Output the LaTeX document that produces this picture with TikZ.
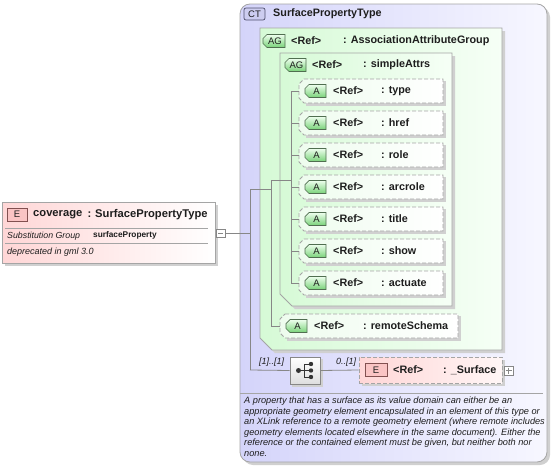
\documentclass[tikz,border=0pt]{standalone}
\usepackage{fontspec}
\setmainfont{Liberation Sans}
\definecolor{lavL}{RGB}{212,212,250}
\definecolor{lavR}{RGB}{247,247,255}
\definecolor{grnL}{RGB}{214,250,214}
\definecolor{grnR}{RGB}{246,255,246}
\definecolor{aboxL}{RGB}{238,252,238}
\definecolor{bordc}{RGB}{165,165,165}
\definecolor{linec}{RGB}{135,135,135}
\definecolor{shadc}{RGB}{208,208,208}
\definecolor{pinkL}{RGB}{255,214,214}
\definecolor{pinkR}{RGB}{255,246,246}
\definecolor{ebadge}{RGB}{250,196,196}
\definecolor{ebord}{RGB}{130,80,80}
\definecolor{abadgeT}{RGB}{238,255,238}
\definecolor{abadgeB}{RGB}{120,210,120}
\definecolor{abord}{RGB}{80,110,80}
\definecolor{ctbadge}{RGB}{205,205,240}
\definecolor{ctbord}{RGB}{80,80,110}
\definecolor{txt}{RGB}{30,30,30}
\tikzset{
  conn/.style={draw=linec, line width=0.8pt},
  lbl/.style={anchor=west, inner sep=0pt, font=\fontsize{10.8}{12}\selectfont\bfseries, text=txt},
  badgetxt/.style={inner sep=0pt, font=\fontsize{9.5}{10}\selectfont, text=txt},
  dashbox/.style={draw=bordc, dash pattern=on 4pt off 2pt, line width=0.8pt},
  desc/.style={anchor=base west, inner sep=0pt, font=\fontsize{9.2}{10}\selectfont\itshape, text=txt},
}
\newcommand{\GreenBadge}[4]{%
  \draw[abord, line width=0.7pt, top color=abadgeT, bottom color=abadgeB]
    (#1+4,#3-6.5) -- (#2,#3-6.5) -- (#2,#3+6.5) -- (#1+4,#3+6.5) -- (#1,#3+2.5) -- (#1,#3-2.5) -- cycle;
  \node[badgetxt] at ({(#1+#2)/2+1},#3) {#4};
}
\newcommand{\AttrRow}[6]{%
  \fill[shadc] (#3+7,#2-10) -- (#4+3,#2-10) -- (#4+3,#2+15) -- (#3+7,#2+15) -- cycle;
  \draw[dashbox, left color=aboxL, right color=white]
    (#3+5,#2-12) -- (#4,#2-12) -- (#4,#2+12) -- (#3+5,#2+12) -- (#3,#2+7) -- (#3,#2-7) -- cycle;
  \coordinate (#1) at (#3,#2);
  \GreenBadge{#3+6}{#3+27}{#2}{A}
  \node[lbl] (#1-ref) at (#3+34,#2) {<Ref>};
  \node[lbl] (#1-lab) at (#6,#2) {: #5};
}
\begin{document}
\begin{tikzpicture}[x=1pt,y=-1pt]
\useasboundingbox (0,0) rectangle (552,466);

% ---------- complex type box ----------
\fill[shadc, rounded corners=10pt] (243,7) rectangle (550,465);
\draw[bordc, line width=0.8pt, left color=lavL, right color=lavR, rounded corners=10pt] (240,4) rectangle (547,462);
\draw[ctbord, line width=0.7pt, fill=ctbadge, rounded corners=2pt] (244,8) rectangle (265,20);
\node[badgetxt] (ctb) at (254.5,14) {CT};
\node[lbl] (cttitle) at (273,14) {SurfacePropertyType};

% ---------- outer attribute group ----------
\fill[shadc] (263,31) -- (505,31) -- (505,353) -- (275,353) -- (263,341) -- cycle;
\draw[bordc, line width=0.8pt, left color=grnL, right color=grnR]
  (260,28) -- (502,28) -- (502,350) -- (272,350) -- (260,338) -- cycle;
\GreenBadge{263}{285}{41}{AG}
\node[lbl] (ag1ref) at (291,41) {<Ref>};
\node[lbl] (ag1lab) at (343,41) {: AssociationAttributeGroup};

% ---------- inner attribute group ----------
\fill[shadc] (283,56) -- (455,56) -- (455,309) -- (295,309) -- (283,297) -- cycle;
\draw[bordc, line width=0.8pt, left color=grnL, right color=grnR]
  (280,53) -- (452,53) -- (452,306) -- (292,306) -- (280,294) -- cycle;
\GreenBadge{285}{306}{65}{AG}
\node[lbl] (ag2ref) at (312,65) {<Ref>};
\node[lbl] (ag2lab) at (363,65) {: simpleAttrs};

% ---------- attributes ----------
\AttrRow{type}{91}{299}{443}{type}{381}
\AttrRow{href}{123}{299}{443}{href}{381}
\AttrRow{role}{155}{299}{443}{role}{381}
\AttrRow{arcrole}{187}{299}{443}{arcrole}{381}
\AttrRow{title}{219}{299}{443}{title}{381}
\AttrRow{show}{251}{299}{443}{show}{381}
\AttrRow{actuate}{283}{299}{443}{actuate}{381}
\AttrRow{remote}{326}{280}{458}{remoteSchema}{363}

% ---------- left element ----------
\fill[shadc] (5,205) rectangle (218,266);
\draw[bordc, line width=0.8pt, left color=pinkL, right color=white] (2,202) rectangle (215,263);
\draw[ebord, line width=0.7pt, fill=ebadge] (7,208) rectangle (27,221);
\node[badgetxt] (eb1) at (17,214.5) {E};
\node[lbl, font=\fontsize{11.2}{12}\selectfont\bfseries] (cov) at (33,214.5) {coverage};
\node[lbl, font=\fontsize{11.2}{12}\selectfont\bfseries] (covc) at (87.5,214.5) {:};
\node[lbl, font=\fontsize{11.2}{12}\selectfont\bfseries] (covt) at (95,214.5) {SurfacePropertyType};
\draw[bordc, line width=0.7pt] (5,228) -- (208,228);
\draw[bordc, line width=0.7pt] (5,243) -- (208,243);
\node[lbl, font=\fontsize{8.8}{10}\selectfont\itshape] (subg) at (7,236) {Substitution Group};
\node[lbl, font=\fontsize{8.3}{10}\selectfont\bfseries] (subv) at (93,235.5) {surfaceProperty};
\node[lbl, font=\fontsize{9}{10}\selectfont\itshape] (depr) at (7,252.5) {deprecated in gml 3.0};

% minus box
\node[draw=linec, fill=white, line width=0.7pt, minimum width=9pt, minimum height=8pt, inner sep=0pt] (minus) at (220.5,233) {};
\draw[linec, line width=0.7pt] (218,233) -- (223,233);

% ---------- connectors ----------
\coordinate (jA) at (250,233);
\coordinate (jTop) at (250,189);
\coordinate (jSeq) at (250,370);
\coordinate (jB) at (271,189);
\coordinate (jBtop) at (271,180);
\coordinate (jBbot) at (271,326);
\coordinate (jC) at (291,180);
\coordinate (jCtop) at (291,91);
\coordinate (jCbot) at (291,283);
\draw[conn] (minus.east) -- (jA);
\draw[conn] (jTop) -- (jSeq);
\draw[conn] (jTop) -- (jB);
\draw[conn] (jBtop) -- (jBbot);
\draw[conn] (jBtop) -- (jC);
\draw[conn] (jBbot) -- (remote);
\draw[conn] (jCtop) -- (jCbot);
\foreach \r/\yy in {type/91,href/123,role/155,arcrole/187,title/219,show/251,actuate/283}{
  \draw[conn] (291,\yy) -- (\r);
}

% ---------- sequence ----------
\fill[shadc] (292,359) rectangle (323,387);
\node[draw=linec, line width=0.7pt, top color=white, bottom color={rgb,255:red,222;green,222;blue,222}, minimum width=30pt, minimum height=27pt, inner sep=0pt] (seq) at (305,370.5) {};
\fill[black!80] (298.5,370.5) circle (2.5pt);
\draw[black!80, line width=0.9pt] (298.5,370.5) -- (304,370.5);
\draw[black!80, line width=0.9pt] (304,364) -- (304,377);
\draw[black!80, line width=0.9pt] (304,364) -- (310,364) (304,370.5) -- (310,370.5) (304,377) -- (310,377);
\fill[black!80] (311,364) circle (2.2pt) (311,370.5) circle (2.2pt) (311,377) circle (2.2pt);
\draw[conn] (jSeq) -- (seq.west);
\node[lbl, font=\fontsize{9}{10}\selectfont\itshape] (occ1) at (259,362) {[1]..[1]};
\node[lbl, font=\fontsize{9}{10}\selectfont\itshape] (occ2) at (336,362) {0..[1]};

% ---------- _Surface element ----------
\fill[shadc] (362,360) rectangle (505,386);
\node[dashbox, left color=pinkL, right color=pinkR, minimum width=143pt, minimum height=26pt, inner sep=0pt] (surf) at (430.5,370) {};
\draw[ebord, line width=0.7pt, fill=ebadge] (365,363.5) rectangle (387,376.5);
\node[badgetxt] (eb2) at (376,370) {E};
\node[lbl] (surfref) at (393,370) {<Ref>};
\node[lbl] (surflab) at (443,370) {: \_Surface};
\draw[conn] (seq.east) -- (surf.west);
\node[draw=linec, fill=white, line width=0.6pt, minimum width=9pt, minimum height=9pt, inner sep=0pt] (plus) at (508.5,370.5) {};
\draw[linec, line width=0.6pt] (505.5,370.5) -- (511.5,370.5) (508.5,367.5) -- (508.5,373.5);

% ---------- description ----------
\draw[bordc, line width=0.7pt] (240,393) -- (543,393);
\node[desc] (d1) at (244,403.5) {A property that has a surface as its value domain can either be an};
\node[desc] (d2) at (244,414) {appropriate geometry element encapsulated in an element of this type or};
\node[desc] (d3) at (244,424.5) {an XLink reference to a remote geometry element (where remote includes};
\node[desc] (d4) at (244,435) {geometry elements located elsewhere in the same document). Either the};
\node[desc] (d5) at (244,445.5) {reference or the contained element must be given, but neither both nor};
\node[desc] (d6) at (244,456) {none.};
\end{tikzpicture}
\end{document}
